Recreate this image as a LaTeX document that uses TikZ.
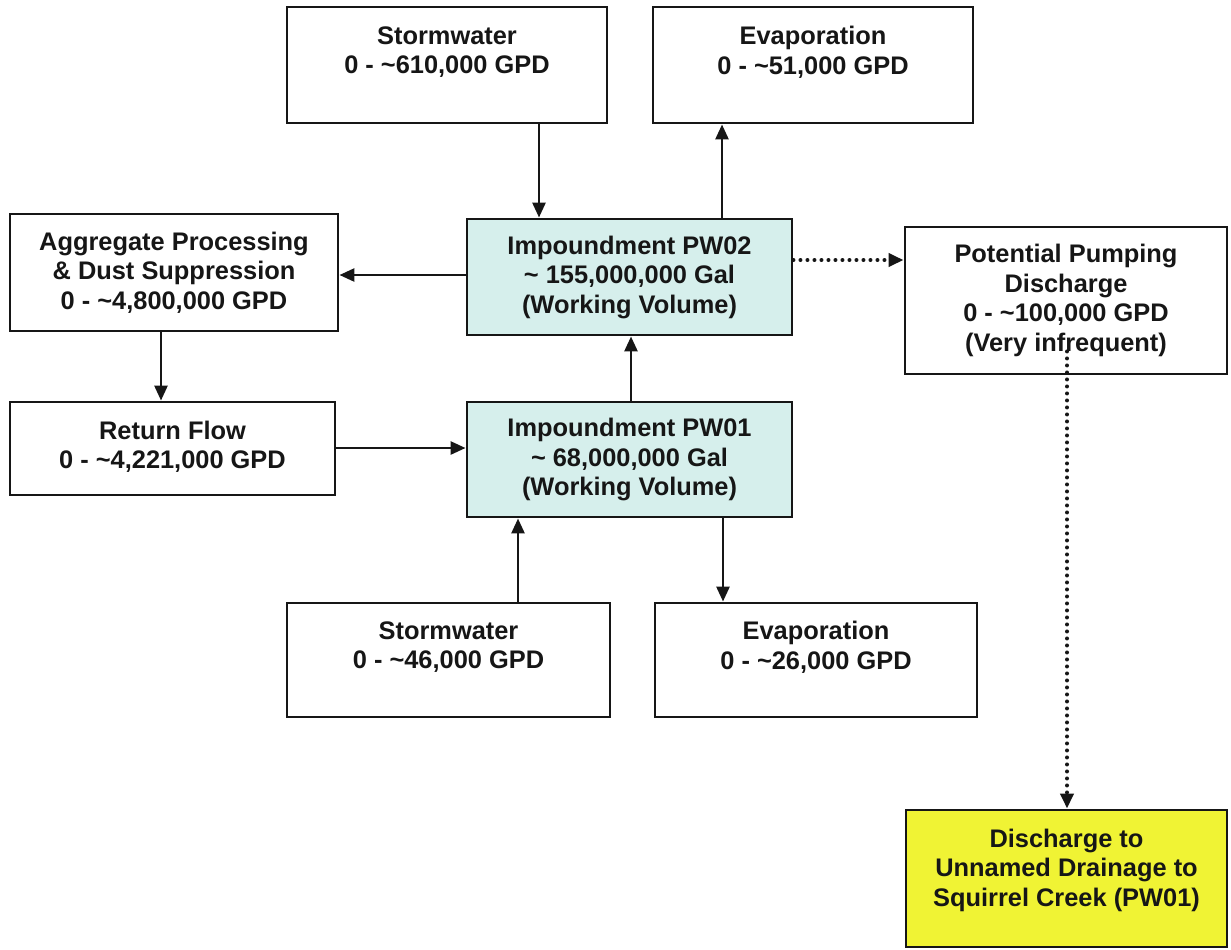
\documentclass[tikz,border=0pt]{standalone}
\usepackage{fontspec}
\setmainfont{Liberation Sans}
\usetikzlibrary{arrows.meta}
\definecolor{pwfill}{RGB}{214,239,236}
\definecolor{yelfill}{RGB}{240,243,52}
\definecolor{ink}{RGB}{22,22,22}
\begin{document}
\begin{tikzpicture}[x=0.5pt,y=-0.5pt,
  box/.style={draw=ink,line width=1.45pt,fill=white,align=center,
    font=\fontsize{12.7}{14.75}\selectfont\bfseries,text=ink,inner sep=0pt},
  pond/.style={box,fill=pwfill},
  sink/.style={box,fill=yelfill},
  flow/.style={draw=ink,line width=1.35pt,-{Triangle[length=7.5pt,width=6.5pt]}},
  dotflow/.style={flow,line cap=round,dash pattern=on 0pt off 3.5pt,line width=2pt}]
\useasboundingbox (0,0) rectangle (1231,949);

\node[box,minimum width=160pt,minimum height=58pt] (SW1) at (447,65)
  {Stormwater\\0 - \textasciitilde610,000 GPD\\\mbox{}};
\node[box,minimum width=160pt,minimum height=58pt] (EV1) at (813,65)
  {Evaporation\\0 - \textasciitilde51,000 GPD\\\mbox{}};
\node[box,minimum width=164pt,minimum height=58.5pt] (AGG) at (174,272.5)
  {Aggregate Processing\\\& Dust Suppression\\0 - \textasciitilde4,800,000 GPD};
\node[pond,minimum width=162.5pt,minimum height=58pt] (PW02) at (629.5,277)
  {Impoundment PW02\\\textasciitilde{} 155,000,000 Gal\\(Working Volume)};
\node[box,minimum width=161pt,minimum height=73.5pt] (POT) at (1066,300.5)
  {Potential Pumping\\Discharge\\0 - \textasciitilde100,000 GPD\\(Very infrequent)};
\node[box,minimum width=162.5pt,minimum height=46.5pt] (RF) at (172.5,448.5)
  {Return Flow\\0 - \textasciitilde4,221,000 GPD\\[-11pt]\mbox{}};
\node[pond,minimum width=162.5pt,minimum height=57.5pt] (PW01) at (629.5,459.5)
  {Impoundment PW01\\\textasciitilde{} 68,000,000 Gal\\(Working Volume)};
\node[box,minimum width=161.5pt,minimum height=57pt] (SW2) at (448.5,660)
  {Stormwater\\0 - \textasciitilde46,000 GPD\\\mbox{}};
\node[box,minimum width=161pt,minimum height=57pt] (EV2) at (816,660)
  {Evaporation\\0 - \textasciitilde26,000 GPD\\\mbox{}};
\node[sink,minimum width=160.5pt,minimum height=68.5pt] (YEL) at (1066.5,878.5)
  {Discharge to\\Unnamed Drainage to\\Squirrel Creek (PW01)\\[-3.75pt]\mbox{}};

\coordinate (a1) at (539,0);
\coordinate (a2) at (722,0);
\coordinate (a3) at (0,275);
\coordinate (a4) at (0,260);
\coordinate (a5) at (161,0);
\coordinate (a6) at (0,448);
\coordinate (a7) at (631,0);
\coordinate (a8) at (518,0);
\coordinate (a9) at (723,0);
\coordinate (a10) at (1067,0);

\draw[flow] (SW1.south -| a1) -- (PW02.north -| a1);
\draw[flow] (PW02.north -| a2) -- (EV1.south -| a2);
\draw[flow] (PW02.west |- a3) -- (AGG.east |- a3);
\draw[dotflow] (PW02.east |- a4) -- (POT.west |- a4);
\draw[flow] (AGG.south -| a5) -- (RF.north -| a5);
\draw[flow] (RF.east |- a6) -- (PW01.west |- a6);
\draw[flow] (PW01.north -| a7) -- (PW02.south -| a7);
\draw[flow] (SW2.north -| a8) -- (PW01.south -| a8);
\draw[flow] (PW01.south -| a9) -- (EV2.north -| a9);
\draw[dotflow,shorten <=-12pt] (POT.south -| a10) -- (YEL.north -| a10);
\end{tikzpicture}
\end{document}
